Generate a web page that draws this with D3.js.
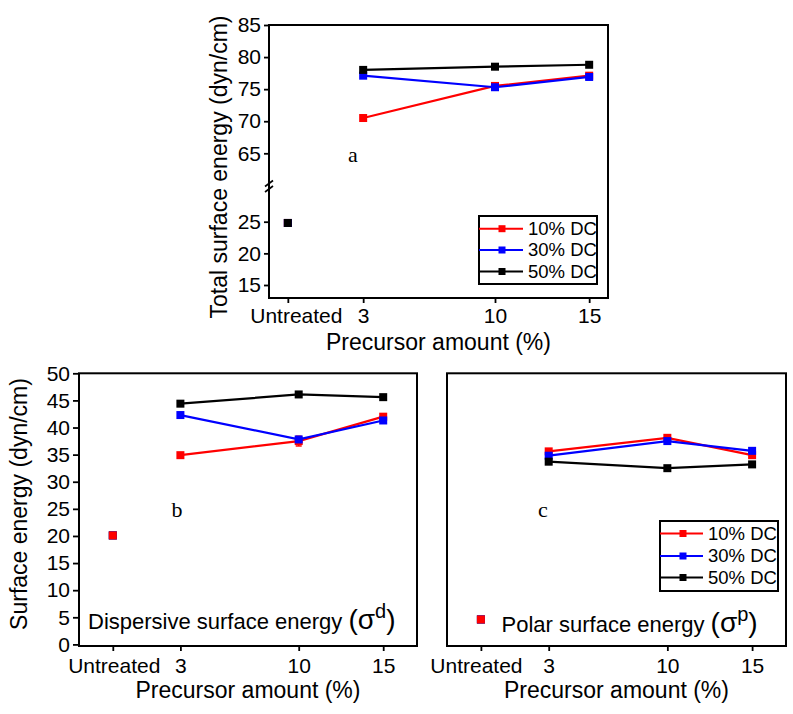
<!DOCTYPE html>
<html><head><meta charset="utf-8">
<script src="https://cdn.jsdelivr.net/npm/d3@7/dist/d3.min.js"></script>
<style>body{margin:0;background:#fff}svg{display:block}</style>
</head><body><div id="chart"></div>
<script>
// ---------- data ----------
const categories = ["Untreated", "3", "10", "15"];
const xPositions = [-1, 3, 10, 15];
const seriesNames = ["10% DC", "30% DC", "50% DC"];
const seriesColors = ["#ff0000", "#0000ff", "#000000"];

const total10 = [24.8, 70.5, 75.5, 77.1];
const total30 = [24.8, 77.1, 75.3, 76.9];
const total50 = [24.8, 78.0, 78.5, 78.8];

const disp10 = [20.1, 34.9, 37.5, 42.0];
const disp30 = [20.1, 42.3, 37.8, 41.3];
const disp50 = [20.1, 44.4, 46.1, 45.6];
const disp10Err = [0.5, 0.4, 0.9, 0.5];

const polar10 = [4.6, 35.6, 38.1, 34.9];
const polar30 = [4.6, 34.8, 37.5, 35.7];
const polar50 = [4.6, 33.7, 32.5, 33.2];

const totalTicksUpper = [65, 70, 75, 80, 85];
const totalTicksLower = [15, 20, 25];
const surfaceTicks = [0, 5, 10, 15, 20, 25, 30, 35, 40, 45, 50];

const FONT = "'Liberation Sans', Arial, Helvetica, sans-serif";
const SERIF = "'Liberation Serif', 'Times New Roman', serif";
const MS = 8;

const svg = d3.select("#chart").append("svg").attr("width", 793).attr("height", 714)
  .style("font-family", FONT);

function styleAxis(g, fontSize) {
  g.select(".domain").remove();
  g.selectAll(".tick line").attr("stroke", "#000").attr("stroke-width", 1.8);
  g.selectAll(".tick text").attr("fill", "#000").style("font-size", fontSize + "px").style("font-family", FONT);
}

function drawSeries(g, x, y, seriesList, errs) {
  seriesList.forEach((s, i) => {
    const pts = xPositions.slice(1).map((xv, j) => ({x: xv, y: s.values[j + 1], e: errs && errs[i] ? errs[i][j + 1] : 0}));
    g.append("path").datum(pts)
      .attr("d", d3.line().x(d => x(d.x)).y(d => y(d.y)))
      .attr("fill", "none").attr("stroke", s.color).attr("stroke-width", 2.2);
    pts.forEach(d => {
      if (d.e > 0) {
        g.append("line").attr("x1", x(d.x)).attr("x2", x(d.x))
          .attr("y1", y(d.y - d.e)).attr("y2", y(d.y + d.e)).attr("stroke", s.color).attr("stroke-width", 1.5);
        [d.y - d.e, d.y + d.e].forEach(v => g.append("line").attr("x1", x(d.x) - 3).attr("x2", x(d.x) + 3)
          .attr("y1", y(v)).attr("y2", y(v)).attr("stroke", s.color).attr("stroke-width", 1.5));
      }
    });
    g.selectAll(null).data(pts).enter().append("rect")
      .attr("x", d => x(d.x) - MS / 2).attr("y", d => y(d.y) - MS / 2)
      .attr("width", MS).attr("height", MS).attr("fill", s.color);
  });
}

function drawUntreated(g, x, y, value, color) {
  g.append("rect").attr("x", x(xPositions[0]) - MS / 2).attr("y", y(value) - MS / 2)
    .attr("width", MS).attr("height", MS).attr("fill", color);
}

function drawLegend(g, bx, by, bw, bh, rowYs, lineEnd, markX, textX) {
  g.append("rect").attr("x", bx).attr("y", by).attr("width", bw).attr("height", bh)
    .attr("fill", "#fff").attr("stroke", "#000").attr("stroke-width", 2);
  seriesNames.forEach((n, i) => {
    g.append("line").attr("x1", bx).attr("x2", lineEnd).attr("y1", rowYs[i]).attr("y2", rowYs[i])
      .attr("stroke", seriesColors[i]).attr("stroke-width", 2);
    g.append("rect").attr("x", markX - 3.5).attr("y", rowYs[i] - 3.5).attr("width", 7).attr("height", 7)
      .attr("fill", seriesColors[i]);
    g.append("text").attr("x", textX).attr("y", rowYs[i]).attr("dy", "0.35em")
      .style("font-size", "18.5px").text(n);
  });
}

function xAxis(g, x, y0, padding, untreatedDx, fontSize) {
  const ax = g.append("g").attr("transform", `translate(0,${y0})`)
    .call(d3.axisBottom(x).tickValues(xPositions).tickFormat((d, i) => categories[i]).tickSize(5).tickPadding(padding));
  styleAxis(ax, fontSize);
  ax.selectAll(".tick text").filter((d, i) => i === 0).attr("dx", untreatedDx);
}

// ---------- panel a ----------
{
  const L = 269, R = 608, T = 25, B = 298;
  const g = svg.append("g");
  const x = d3.scaleLinear().domain([-2, 16]).range([L, R]);
  const yU = d3.scaleLinear().domain([65, 85]).range([153.3, 25]);
  const yL = d3.scaleLinear().domain([15, 25]).range([285, 221.7]);
  const y = v => v >= 45 ? yU(v) : yL(v);

  const a1 = g.append("g").attr("transform", `translate(${L},0)`)
    .call(d3.axisLeft(yU).tickValues(totalTicksUpper).tickSize(5).tickPadding(3));
  styleAxis(a1, 21);
  const a2 = g.append("g").attr("transform", `translate(${L},0)`)
    .call(d3.axisLeft(yL).tickValues(totalTicksLower).tickSize(5).tickPadding(3));
  styleAxis(a2, 21);
  xAxis(g, x, B, 5, 8, 21);

  g.append("rect").attr("x", L).attr("y", T).attr("width", R - L).attr("height", B - T)
    .attr("fill", "none").attr("stroke", "#000").attr("stroke-width", 2);
  // axis break marks
  [183.5, 189].forEach(yy => g.append("line").attr("x1", L - 4).attr("x2", L + 4)
    .attr("y1", yy + 3).attr("y2", yy - 3).attr("stroke", "#000").attr("stroke-width", 1.6));

  drawSeries(g, x, y, [
    {values: total10, color: seriesColors[0]},
    {values: total30, color: seriesColors[1]},
    {values: total50, color: seriesColors[2]}
  ]);
  drawUntreated(g, x, y, total10[0], seriesColors[0]);
  drawUntreated(g, x, y, total30[0], seriesColors[1]);
  drawUntreated(g, x, y, total50[0], seriesColors[2]);

  drawLegend(g, 479, 216, 118, 68, [228.7, 250, 271.5], 523, 502, 528);

  g.append("text").attr("x", 348).attr("y", 161.5).style("font-family", SERIF).style("font-size", "22px").text("a");
  g.append("text").attr("transform", "translate(227,167) rotate(-90)").attr("text-anchor", "middle")
    .style("font-size", "23px").text("Total surface energy (dyn/cm)");
  g.append("text").attr("x", 438.5).attr("y", 350).attr("text-anchor", "middle")
    .style("font-size", "23px").text("Precursor amount (%)");
}

// ---------- panels b and c ----------
function lowerPanel(L, R, values, errs, untreatedColor, showY, untreatedDx) {
  const T = 373.3, B = 646;
  const g = svg.append("g");
  const x = d3.scaleLinear().domain([-3, 17]).range([L, R]);
  const y = d3.scaleLinear().domain([0, 50]).range([644.4, 373.3]);
  if (showY) {
    const ay = g.append("g").attr("transform", `translate(${L},0)`)
      .call(d3.axisLeft(y).tickValues(surfaceTicks).tickSize(6).tickPadding(3));
    styleAxis(ay, 21);
  }
  xAxis(g, x, B, 7, untreatedDx, 21);
  g.append("rect").attr("x", L).attr("y", T).attr("width", R - L).attr("height", B - T)
    .attr("fill", "none").attr("stroke", "#000").attr("stroke-width", 2);
  drawSeries(g, x, y, [
    {values: values[0], color: seriesColors[0]},
    {values: values[1], color: seriesColors[1]},
    {values: values[2], color: seriesColors[2]}
  ], errs);
  drawUntreated(g, x, y, values[2][0], seriesColors[2]);
  drawUntreated(g, x, y, values[1][0], seriesColors[1]);
  drawUntreated(g, x, y, values[0][0], untreatedColor);
  g.append("text").attr("x", (L + R) / 2).attr("y", 698).attr("text-anchor", "middle")
    .style("font-size", "23px").text("Precursor amount (%)");
  return {g, x, y};
}

{
  const p = lowerPanel(79, 417, [disp10, disp30, disp50], [disp10Err, null, null], seriesColors[0], true, 1);
  p.g.append("text").attr("x", 171.5).attr("y", 516.5).style("font-family", SERIF).style("font-size", "22px").text("b");
  const t = p.g.append("text").attr("x", 88).attr("y", 629).style("font-size", "22px");
  t.append("tspan").text("Dispersive surface energy ");
  t.append("tspan").style("font-size", "28px").text("(σ");
  t.append("tspan").style("font-size", "20px").attr("dy", -11).text("d");
  t.append("tspan").style("font-size", "28px").attr("dy", 11).text(")");
  svg.append("text").attr("transform", "translate(26.5,504) rotate(-90)").attr("text-anchor", "middle")
    .style("font-size", "23px").text("Surface energy (dyn/cm)");
}
{
  const p = lowerPanel(447, 786, [polar10, polar30, polar50], null, seriesColors[0], false, -5);
  p.g.append("text").attr("x", 538).attr("y", 516.5).style("font-family", SERIF).style("font-size", "22px").text("c");
  drawLegend(p.g, 660, 521, 118, 70, [533.5, 556, 577.5], 703, 683, 708);
  const t = p.g.append("text").attr("x", 501.5).attr("y", 631.5).style("font-size", "22px");
  t.append("tspan").text("Polar surface energy ");
  t.append("tspan").style("font-size", "28px").text("(σ");
  t.append("tspan").style("font-size", "20px").attr("dy", -11).text("p");
  t.append("tspan").style("font-size", "28px").attr("dy", 11).text(")");
}
</script>
</body></html>
